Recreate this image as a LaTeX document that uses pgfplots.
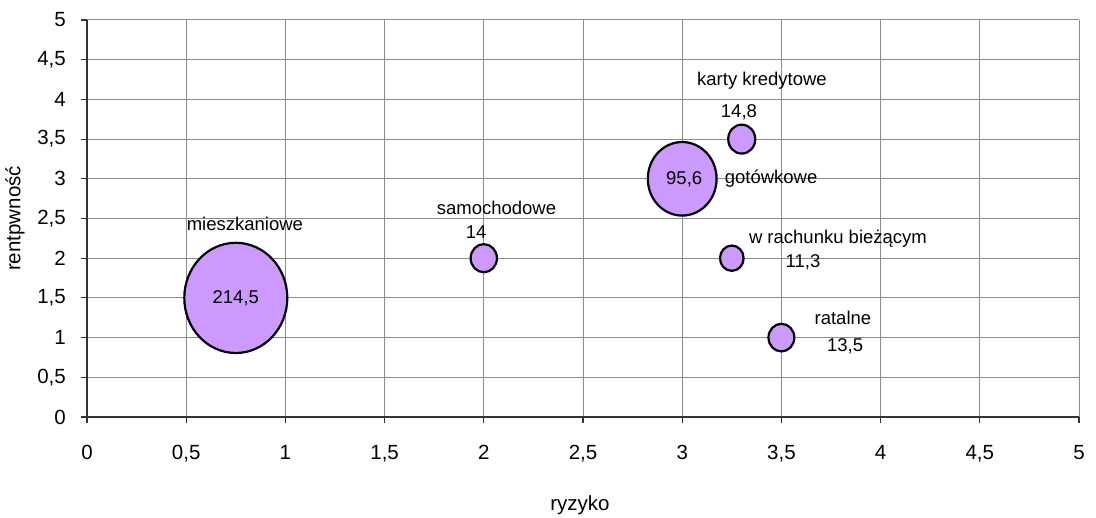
\documentclass[border=0pt]{standalone}
\usepackage{fontspec}
\setmainfont{Liberation Sans}
\usepackage{pgfplots}
\pgfplotsset{compat=1.18}
\definecolor{bubblefill}{HTML}{CC99FF}
\definecolor{gridgray}{HTML}{8C8C8C}
\definecolor{axisdark}{HTML}{333333}

\pgfplotstableread{
x     y    s
0.75  1.5  214.5
3     3    95.6
2     2    14
3.3   3.5  14.8
3.25  2    11.3
3.5   1    13.5
}\credits

\begin{document}
\begin{tikzpicture}
\begin{axis}[
  scale only axis,
  width=992pt, height=397pt,
  xmin=0, xmax=5, ymin=0, ymax=5,
  xtick={0,0.5,...,5}, ytick={0,0.5,...,5},
  axis x line*=bottom, axis y line*=left,
  axis line style={axisdark, line width=1.1pt},
  tick align=outside, major tick length=6pt,
  tick style={axisdark, line width=1.1pt},
  grid=major,
  major grid style={gridgray, line width=1pt},
  /pgf/number format/.cd, use comma, 1000 sep={}, assume math mode=true,
  /pgfplots/.cd,
  every tick label/.append style={font=\fontsize{20.5}{24}\selectfont, inner sep=0pt, text=black},
  xticklabel shift=22pt,
  yticklabel shift=15pt,
  xlabel={ryzyko}, ylabel={rentpwność},
  every axis x label/.style={at={(axis description cs:0.497,-0.2217)}, anchor=center, font=\fontsize{20.5}{24}\selectfont},
  every axis y label/.style={at={(axis description cs:-0.0726,0.5)}, anchor=center, rotate=90, font=\fontsize{20.5}{24}\selectfont},
  clip=false,
]
\addplot[
  scatter, only marks, mark=*,
  scatter/use mapped color={draw=black, fill=bubblefill},
  visualization depends on={3.516*sqrt(\thisrow{s}) \as \rad},
  scatter/@pre marker code/.append style={/tikz/mark size=\rad},
  mark options={line width=2.2pt, yscale=1.07},
] table[x=x, y=y] {\credits};

% anchor points for the data labels
\coordinate (mN) at (axis cs:0.796,2.431);
\coordinate (mV) at (axis cs:0.75,1.5);
\coordinate (sN) at (axis cs:2.064,2.632);
\coordinate (sV) at (axis cs:1.961,2.33);
\coordinate (kN) at (axis cs:3.402,4.232);
\coordinate (kV) at (axis cs:3.286,3.841);
\coordinate (gV) at (axis cs:3.01,3);
\coordinate (gN) at (axis cs:3.448,2.997);
\coordinate (rN) at (axis cs:3.785,2.242);
\coordinate (rV) at (axis cs:3.609,1.952);
\coordinate (tN) at (axis cs:3.810,1.247);
\coordinate (tV) at (axis cs:3.821,0.894);

\coordinate (bl) at (rel axis cs:0,0);
\coordinate (tr) at (rel axis cs:1,1);
\end{axis}

\begin{scope}[every node/.style={font=\fontsize{18.5}{22}\selectfont, inner sep=0pt, anchor=center}]
\node at (mN) {mieszkaniowe};
\node at (mV) {214,5};
\node at (sN) {samochodowe};
\node at (sV) {14};
\node at (kN) {karty kredytowe};
\node at (kV) {14,8};
\node at (gV) {95,6};
\node at (gN) {gotówkowe};
\node at (rN) {w rachunku bieżącym};
\node at (rV) {11,3};
\node at (tN) {ratalne};
\node at (tV) {13,5};
\end{scope}

\path[use as bounding box] ([shift={(-87pt,-99pt)}]bl) rectangle ([shift={(17pt,20pt)}]tr);
\end{tikzpicture}
\end{document}
